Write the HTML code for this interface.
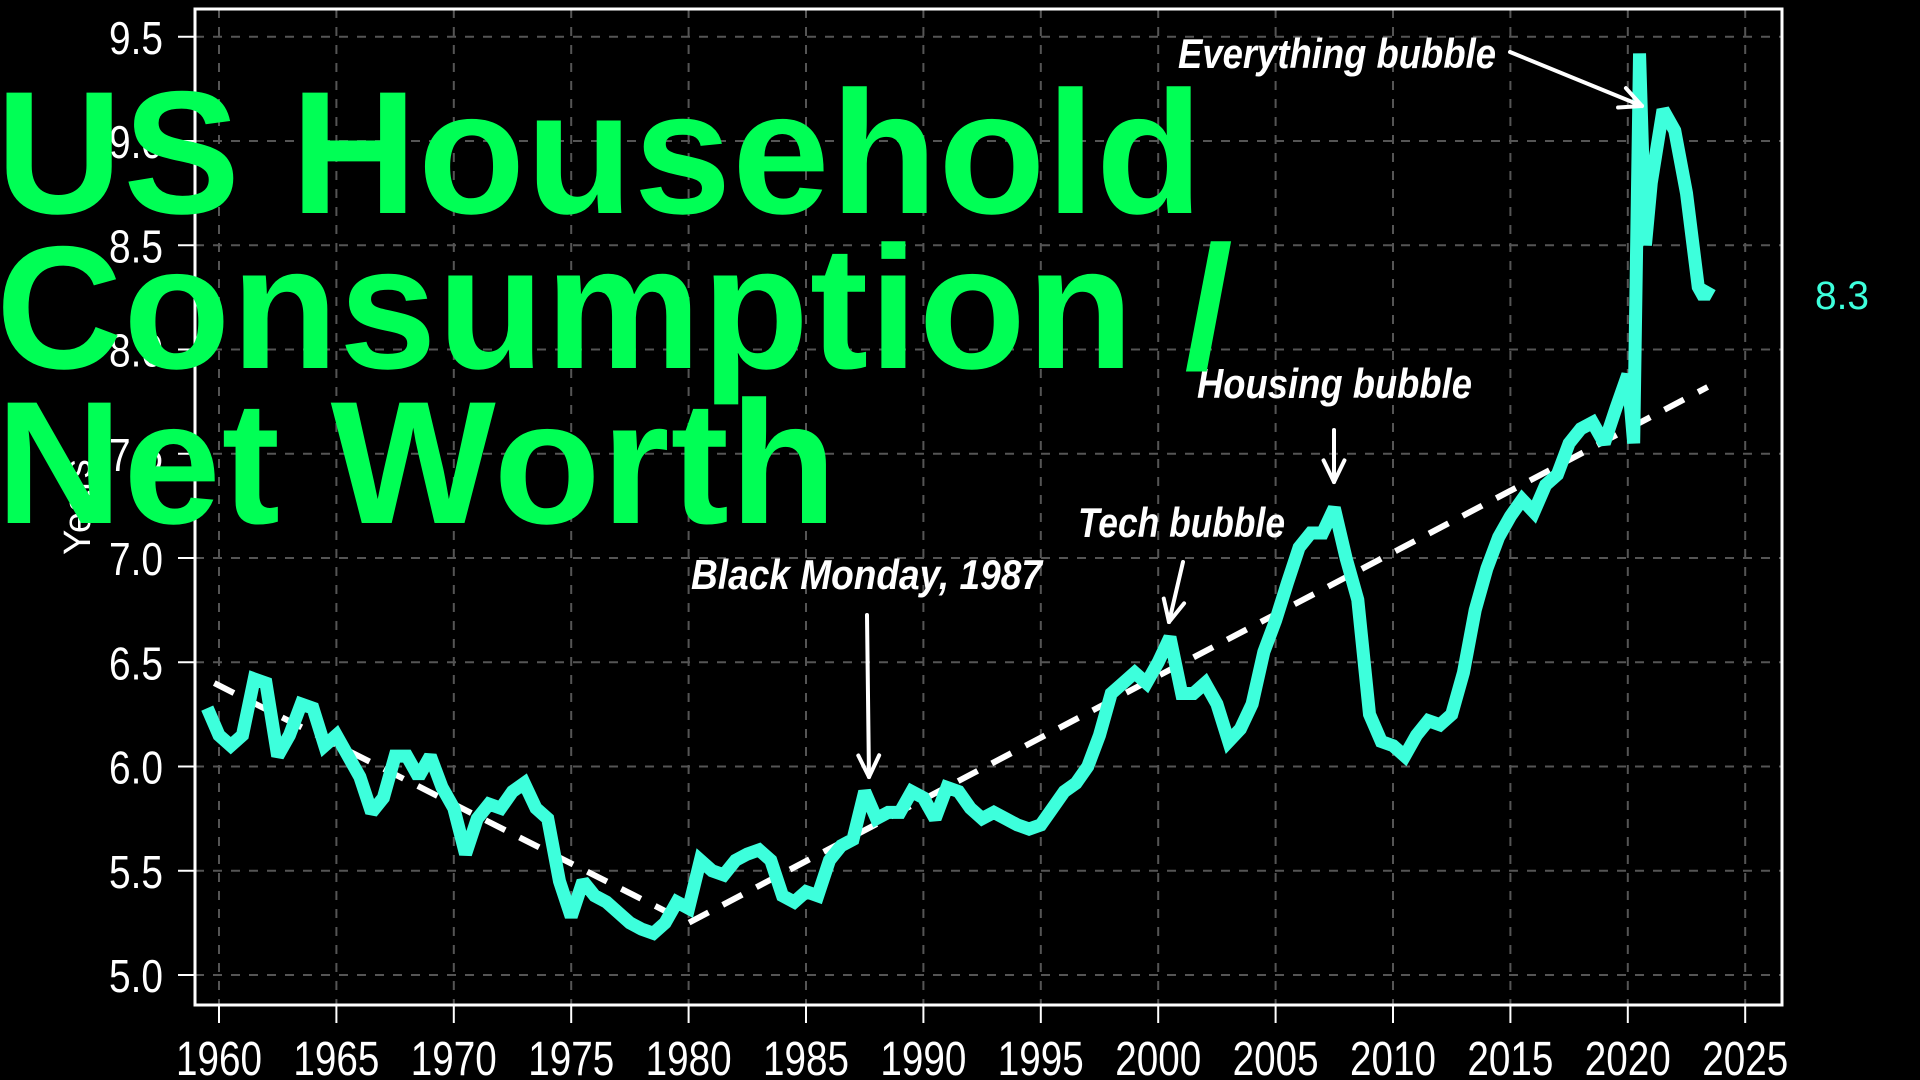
<!DOCTYPE html>
<html><head><meta charset="utf-8">
<style>
html,body{margin:0;padding:0;background:#000;width:1920px;height:1080px;overflow:hidden}
#chart{position:absolute;left:0;top:0}
.title{position:absolute;left:-4px;color:#00ff55;font-family:"Liberation Sans",sans-serif;font-weight:bold;font-size:175px;line-height:155px;white-space:nowrap;letter-spacing:1px}
</style></head><body>
<svg id="chart" width="1920" height="1080"></svg>
<div class="title" style="top:76px">US Household<br>Consumption /<br>Net Worth</div>
<script>
const years=[1959.5,1960,1960.5,1961,1961.5,1962,1962.5,1963,1963.5,1964,1964.5,1965,1965.5,1966,1966.5,1967,1967.5,1968,1968.5,1969,1969.5,1970,1970.5,1971,1971.5,1972,1972.5,1973,1973.5,1974,1974.5,1975,1975.5,1976,1976.5,1977,1977.5,1978,1978.5,1979,1979.5,1980,1980.5,1981,1981.5,1982,1982.5,1983,1983.5,1984,1984.5,1985,1985.5,1986,1986.5,1987,1987.5,1988,1988.5,1989,1989.5,1990,1990.5,1991,1991.5,1992,1992.5,1993,1993.5,1994,1994.5,1995,1995.5,1996,1996.5,1997,1997.5,1998,1998.5,1999,1999.5,2000,2000.5,2001,2001.5,2002,2002.5,2003,2003.5,2004,2004.5,2005,2005.5,2006,2006.5,2007,2007.5,2008,2008.5,2009,2009.5,2010,2010.5,2011,2011.5,2012,2012.5,2013,2013.5,2014,2014.5,2015,2015.5,2016,2016.5,2017,2017.5,2018,2018.5,2019,2019.5,2020,2020.25,2020.5,2020.75,2021,2021.5,2022,2022.5,2023,2023.25,2023.5];
const values=[6.28,6.15,6.10,6.15,6.42,6.40,6.05,6.15,6.30,6.28,6.10,6.15,6.05,5.95,5.78,5.85,6.05,6.05,5.95,6.05,5.90,5.80,5.58,5.75,5.82,5.80,5.88,5.92,5.80,5.75,5.45,5.28,5.45,5.38,5.35,5.30,5.25,5.22,5.20,5.25,5.35,5.32,5.55,5.50,5.48,5.55,5.58,5.60,5.55,5.38,5.35,5.40,5.38,5.55,5.62,5.65,5.88,5.75,5.78,5.78,5.88,5.85,5.75,5.90,5.88,5.80,5.75,5.78,5.75,5.72,5.70,5.72,5.80,5.88,5.92,6.00,6.15,6.35,6.40,6.45,6.40,6.50,6.62,6.35,6.35,6.40,6.30,6.12,6.18,6.30,6.55,6.70,6.88,7.05,7.12,7.12,7.24,7.00,6.80,6.25,6.12,6.10,6.05,6.15,6.22,6.20,6.25,6.45,6.75,6.95,7.10,7.20,7.28,7.22,7.35,7.40,7.55,7.62,7.65,7.55,7.72,7.88,7.55,9.42,8.50,8.80,9.15,9.05,8.75,8.30,8.25,8.30];
const trendYears=[1959.8,1980,2023.4];
const trendValues=[6.40,5.25,7.82];
const xTicks=[1960,1965,1970,1975,1980,1985,1990,1995,2000,2005,2010,2015,2020,2025];
const yTicks=[5.0,5.5,6.0,6.5,7.0,7.5,8.0,8.5,9.0,9.5];
const lastLabel="8.3";

const svg=document.getElementById('chart');
const NS='http://www.w3.org/2000/svg';
const L=195,R=1782,T=9,B=1005;
const FONT='"Liberation Sans",sans-serif';
const xs=y=>219+(y-1960)*23.48;
const ys=v=>975-(v-5)*208.5;
function mk(tag,attrs,parent){const e=document.createElementNS(NS,tag);for(const k in attrs)e.setAttribute(k,attrs[k]);(parent||svg).appendChild(e);return e;}

const grid=mk('g',{});


xTicks.forEach(t=>{
  const l=mk('line',{x1:xs(t),x2:xs(t),y1:T,y2:B,stroke:'#555','stroke-width':2,'stroke-dasharray':'9,9'},grid);
  
  
  const tk=mk('line',{x1:xs(t),x2:xs(t),y1:B,y2:B+18,stroke:'#fff','stroke-width':2});
  
  
  const tx=mk('text',{x:xs(t)-43,y:1075,fill:'#fff','font-size':48,textLength:86,lengthAdjust:'spacingAndGlyphs','font-family':FONT});
  tx.textContent=t;
  
  
});
yTicks.forEach(t=>{
  const l=mk('line',{x1:L,x2:R,y1:ys(t),y2:ys(t),stroke:'#555','stroke-width':2,'stroke-dasharray':'9,9'},grid);
  
  
  const tk=mk('line',{x1:178,x2:L,y1:ys(t),y2:ys(t),stroke:'#fff','stroke-width':2});
  
  
  const tx=mk('text',{x:109,y:ys(t)+17,fill:'#fff','font-size':46,textLength:54,lengthAdjust:'spacingAndGlyphs','font-family':FONT});
  tx.textContent=t.toFixed(1);
  
  
});
const frame=mk('rect',{x:L,y:T,width:R-L,height:B-T,fill:'none',stroke:'#fff','stroke-width':3});



const yt=mk('text',{x:0,y:0,fill:'#fff','font-size':38,transform:'translate(90,555) rotate(-90)','font-family':FONT});
yt.textContent='Years';



const tr=mk('polyline',{points:trendYears.map((y,i)=>xs(y)+','+ys(trendValues[i])).join(' '),fill:'none',stroke:'#fff','stroke-width':6,'stroke-dasharray':'22,16'});



const ln=mk('polyline',{points:years.map((y,i)=>xs(y)+','+ys(values[i])).join(' '),fill:'none',stroke:'#3dffdc','stroke-width':13,'stroke-linejoin':'miter','stroke-miterlimit':2});



const lv=mk('text',{x:1815,y:309,fill:'#3dffdc','font-size':40,textLength:54,lengthAdjust:'spacingAndGlyphs','font-family':FONT});
lv.textContent=lastLabel;



function ann(txt,x,y,w){const t=mk('text',{x:x,y:y,fill:'#fff','font-size':42,'font-style':'italic','font-weight':'bold',textLength:w,lengthAdjust:'spacingAndGlyphs','font-family':FONT});t.textContent=txt;return t;}
function arrow(x1,y1,x2,y2){const g=mk('g',{stroke:'#fff','stroke-width':4,fill:'none','stroke-linecap':'round'});mk('line',{x1,y1,x2,y2},g);const a=Math.atan2(y2-y1,x2-x1),h=24;[0.45,-0.45].forEach(d=>mk('line',{x1:x2,y1:y2,x2:x2-h*Math.cos(a+d),y2:y2-h*Math.sin(a+d)},g));return g;}
let a;
a=ann('Everything bubble',1178,68,318);
a=arrow(1510,52,1642,106);
a=ann('Housing bubble',1197,398,275);
a=arrow(1334,430,1334,482);
a=ann('Tech bubble',1078,537,207);
a=arrow(1183,562,1169,622);
a=ann('Black Monday, 1987',691,589,351);
a=arrow(867,615,869,777);
</script>
</body></html>
